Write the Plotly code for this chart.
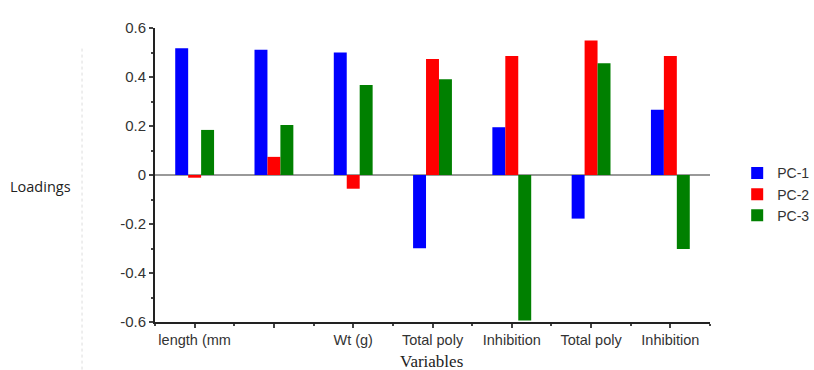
import plotly.graph_objects as go

categories = ["length (mm", "", "Wt (g)", "Total poly", "Inhibition", "Total poly", "Inhibition"]
pc1 = [0.517, 0.511, 0.500, -0.299, 0.195, -0.178, 0.266]
pc2 = [-0.011, 0.074, -0.056, 0.473, 0.486, 0.549, 0.486]
pc3 = [0.184, 0.204, 0.367, 0.391, -0.594, 0.456, -0.302]
series_names = ["PC-1", "PC-2", "PC-3"]
colors = ["#0000FF", "#FF0000", "#008000"]
yticks = [0.6, 0.4, 0.2, 0, -0.2, -0.4, -0.6]
yticktext = ["0.6", "0.4", "0.2", "0", "-0.2", "-0.4", "-0.6"]

xpos = list(range(len(categories)))

fig = go.Figure()
for name, vals, col in zip(series_names, [pc1, pc2, pc3], colors):
    fig.add_trace(go.Bar(x=xpos, y=vals, name=name, marker=dict(color=col, line=dict(width=0))))

fig.update_layout(
    width=814, height=370,
    margin=dict(l=155, r=104, t=28, b=48, autoexpand=False),
    paper_bgcolor="white", plot_bgcolor="white",
    barmode="group", bargap=0.51, bargroupgap=0,
    font=dict(family="Arial, Liberation Sans", size=12, color="#333"),
    legend=dict(x=1.049, y=0.56, xanchor="left", yanchor="top",
                font=dict(family="Arial, Liberation Sans", size=14, color="#333"),
                itemwidth=30, tracegroupgap=0),
    showlegend=True,
)
fig.update_xaxes(
    range=[-0.5, 6.5], tickvals=xpos, ticktext=categories, automargin=False,
    showline=True, linecolor="#222", linewidth=2,
    ticks="outside", ticklen=4, tickcolor="#444", tickwidth=1.5,
    minor=dict(tickvals=[i + 0.5 for i in range(-1, 7)], ticks="outside", ticklen=2, tickcolor="#444"),
    showgrid=False, zeroline=False,
    tickfont=dict(family="Arial, Liberation Sans", size=14.5, color="#333"),
)
fig.update_yaxes(
    range=[-0.6, 0.6], tickvals=yticks, ticktext=yticktext, automargin=False,
    showline=True, linecolor="#222", linewidth=2,
    ticks="outside", ticklen=4, tickcolor="#444", tickwidth=1.5,
    minor=dict(dtick=0.1, ticks="outside", ticklen=2, tickcolor="#444"),
    showgrid=False, zeroline=True, zerolinecolor="#999", zerolinewidth=1.5,
    tickfont=dict(family="Arial, Liberation Sans", size=15, color="#333"),
)
fig.add_annotation(text="Loadings", xref="paper", yref="paper", x=-0.265, y=0.46,
                   xanchor="left", yanchor="middle", showarrow=False,
                   font=dict(family="Open Sans, Liberation Sans", size=14.5, color="#222"))
fig.add_annotation(text="Variables", xref="paper", yref="paper", x=0.499, y=-0.136,
                   xanchor="center", yanchor="middle", showarrow=False,
                   font=dict(family="Liberation Serif, Times New Roman", size=17, color="#222"))
fig.add_shape(type="line", xref="paper", yref="paper", x0=-0.1315, x1=-0.1315, y0=0.93, y1=-0.2,
              line=dict(color="#ddd", width=1, dash="dot"))

fig.write_html("out.html", config={"displayModeBar": False},
               post_script="document.body.style.margin='0px';document.body.style.overflow='hidden';")
